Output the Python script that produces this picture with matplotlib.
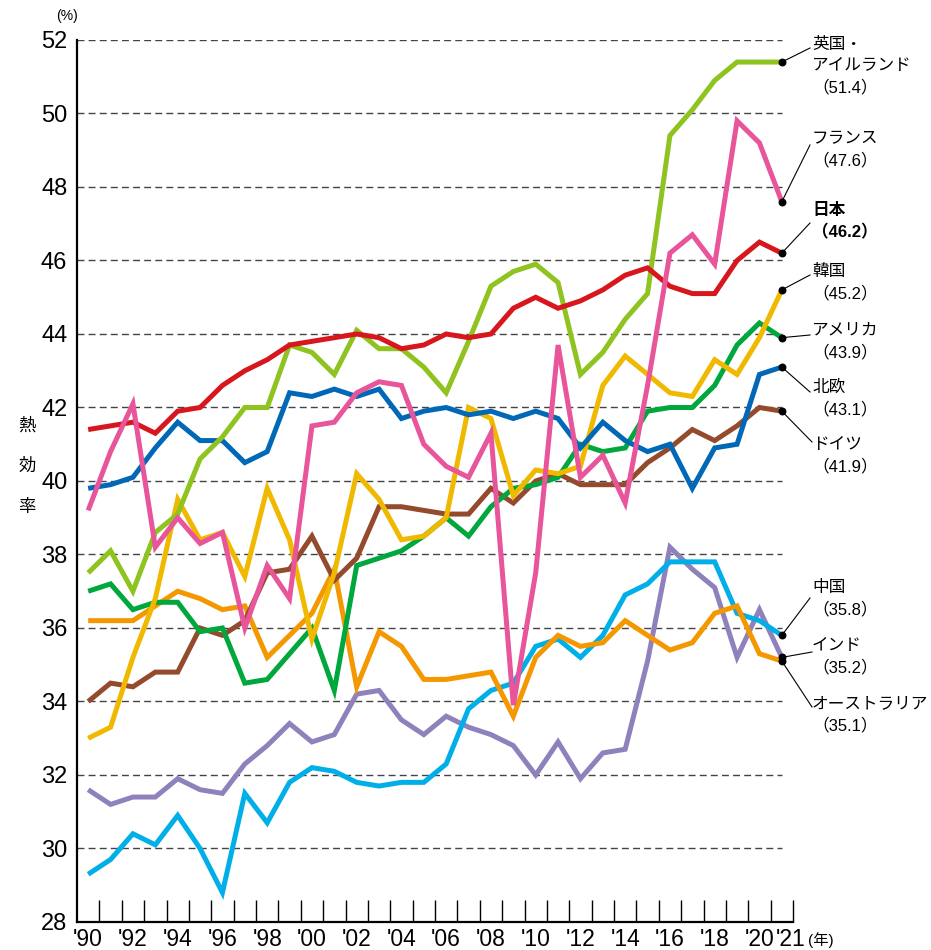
import numpy as np
import matplotlib
matplotlib.use('Agg')
from matplotlib import pyplot as plt
from matplotlib.transforms import ScaledTranslation

plt.rcParams['font.family'] = ['Liberation Sans', 'Noto Sans CJK JP']

# --- data ---
years = np.arange(1990, 2022)

uk_ireland = [37.5, 38.1, 37.0, 38.6, 39.1, 40.6, 41.2, 42.0, 42.0, 43.7,
              43.5, 42.9, 44.1, 43.6, 43.6, 43.1, 42.4, 43.8, 45.3, 45.7,
              45.9, 45.4, 42.9, 43.5, 44.4, 45.1, 49.4, 50.1, 50.9, 51.4,
              51.4, 51.4]
france = [39.2, 40.8, 42.1, 38.2, 39.0, 38.3, 38.6, 36.0, 37.7, 36.8,
          41.5, 41.6, 42.4, 42.7, 42.6, 41.0, 40.4, 40.1, 41.3, 33.9,
          37.5, 43.7, 40.1, 40.7, 39.4, 42.6, 46.2, 46.7, 45.9, 49.8,
          49.2, 47.6]
japan = [41.4, 41.5, 41.6, 41.3, 41.9, 42.0, 42.6, 43.0, 43.3, 43.7,
         43.8, 43.9, 44.0, 43.9, 43.6, 43.7, 44.0, 43.9, 44.0, 44.7,
         45.0, 44.7, 44.9, 45.2, 45.6, 45.8, 45.3, 45.1, 45.1, 46.0,
         46.5, 46.2]
korea = [33.0, 33.3, 35.2, 36.8, 39.5, 38.4, 38.6, 37.4, 39.8, 38.4,
         35.7, 37.5, 40.2, 39.5, 38.4, 38.5, 39.0, 42.0, 41.7, 39.6,
         40.3, 40.2, 40.4, 42.6, 43.4, 42.9, 42.4, 42.3, 43.3, 42.9,
         43.9, 45.2]
usa = [37.0, 37.2, 36.5, 36.7, 36.7, 35.9, 36.0, 34.5, 34.6, 35.3,
       36.0, 34.3, 37.7, 37.9, 38.1, 38.5, 39.0, 38.5, 39.3, 39.8,
       39.9, 40.1, 41.0, 40.8, 40.9, 41.9, 42.0, 42.0, 42.6, 43.7,
       44.3, 43.9]
nordic = [39.8, 39.9, 40.1, 40.9, 41.6, 41.1, 41.1, 40.5, 40.8, 42.4,
          42.3, 42.5, 42.3, 42.5, 41.7, 41.9, 42.0, 41.8, 41.9, 41.7,
          41.9, 41.7, 40.9, 41.6, 41.1, 40.8, 41.0, 39.8, 40.9, 41.0,
          42.9, 43.1]
germany = [34.0, 34.5, 34.4, 34.8, 34.8, 36.0, 35.8, 36.2, 37.5, 37.6,
           38.5, 37.3, 37.9, 39.3, 39.3, 39.2, 39.1, 39.1, 39.8, 39.4,
           40.0, 40.2, 39.9, 39.9, 39.9, 40.5, 40.9, 41.4, 41.1, 41.5,
           42.0, 41.9]
china = [29.3, 29.7, 30.4, 30.1, 30.9, 30.0, 28.8, 31.5, 30.7, 31.8,
         32.2, 32.1, 31.8, 31.7, 31.8, 31.8, 32.3, 33.8, 34.3, 34.5,
         35.5, 35.7, 35.2, 35.8, 36.9, 37.2, 37.8, 37.8, 37.8, 36.4,
         36.2, 35.8]
india = [31.6, 31.2, 31.4, 31.4, 31.9, 31.6, 31.5, 32.3, 32.8, 33.4,
         32.9, 33.1, 34.2, 34.3, 33.5, 33.1, 33.6, 33.3, 33.1, 32.8,
         32.0, 32.9, 31.9, 32.6, 32.7, 35.1, 38.2, 37.6, 37.1, 35.2,
         36.5, 35.2]
australia = [36.2, 36.2, 36.2, 36.6, 37.0, 36.8, 36.5, 36.6, 35.2, 35.8,
             36.4, 37.6, 34.4, 35.9, 35.5, 34.6, 34.6, 34.7, 34.8, 33.6,
             35.2, 35.8, 35.5, 35.6, 36.2, 35.8, 35.4, 35.6, 36.4, 36.6,
             35.3, 35.1]

x_labels = ["'90", "'92", "'94", "'96", "'98", "'00", "'02", "'04", "'06",
            "'08", "'10", "'12", "'14", "'16", "'18", "'20", "'21"]
x_label_years = list(range(1990, 2021, 2)) + [2021]

# drawing order (bottom first): name, values, colour
series = [
    ('インド', india, '#8f82bc'),
    ('中国', china, '#00afe8'),
    ('オーストラリア', australia, '#f39800'),
    ('ドイツ', germany, '#934a2d'),
    ('アメリカ', usa, '#00a73c'),
    ('韓国', korea, '#f0b900'),
    ('北欧', nordic, '#0068b7'),
    ('英国・\nアイルランド', uk_ireland, '#8fc31f'),
    ('日本', japan, '#d7161e'),
    ('フランス', france, '#e8559a'),
]

# --- layout helpers: reference pixel -> data coords ---
W, H = 931, 950
AX_L, AX_R, AX_T, AX_B = 77, 793, 40, 922
X0, X1, Y0, Y1 = 1989.5, 2021.5, 28, 52


def px_x(px):
    return X0 + (px - AX_L) * (X1 - X0) / (AX_R - AX_L)


def px_y(py):
    return Y1 - (py - AX_T) * (Y1 - Y0) / (AX_B - AX_T)


fig = plt.figure(figsize=(W / 100, H / 100), dpi=100)
ax = fig.add_axes([AX_L / W, 1 - AX_B / H, (AX_R - AX_L) / W, (AX_B - AX_T) / H])
ax.set_xlim(X0, X1)
ax.set_ylim(Y0, Y1)

# dashed grid lines stopping at the last year
ax.hlines(np.arange(30, 53, 2), X0, years[-1], colors='#444444', lw=1.0,
          linestyles=(0, (5, 3)), zorder=1)

for name, vals, col in series:
    ax.plot(years, vals, color=col, lw=3.6, solid_joinstyle='miter',
            solid_capstyle='butt', zorder=3)

# end dots
ends = [vals[-1] for _, vals, _ in series]
ax.scatter([years[-1]] * len(ends), ends, s=22, color='black', zorder=5, clip_on=False)

for s in ['top', 'right']:
    ax.spines[s].set_visible(False)
for s in ['left', 'bottom']:
    ax.spines[s].set_linewidth(1.6)
    ax.spines[s].set_color('black')

ax.set_yticks(np.arange(28, 53, 2))
ax.tick_params(axis='y', length=0, pad=7, labelsize=17)
ax.set_xticks(x_label_years)
ax.set_xticklabels(x_labels)
ax.set_xticks(np.arange(1990.5, 2022, 1), minor=True)
ax.tick_params(axis='x', which='major', length=0, pad=4, labelsize=16.5)
ax.tick_params(axis='x', which='minor', direction='in', length=16, width=1.0)
# '21 sits a bit right of its year, snug against '20
lab21 = ax.get_xticklabels()[-1]
lab21.set_transform(lab21.get_transform() + ScaledTranslation(6 / 72, 0, fig.dpi_scale_trans))

# units
fig.text(67 / W, 1 - 16 / H, '(%)', fontsize=10, ha='center', va='center')
fig.text(821 / W, 1 - 940 / H, '(年)', fontsize=11, ha='center', va='center')
for i, ch in enumerate('熱効率'):
    fig.text(27 / W, 1 - (425 + 41 * i) / H, ch, fontsize=12.5, ha='center', va='center')

# right side labels: text, last value, text top (px), leader end (px), bold
labels = [
    ('英国・\nアイルランド\n（51.4）', 51.4, 37, (810, 48), False),
    ('フランス\n（47.6）', 47.6, 131, (810, 145), False),
    ('日本\n（46.2）', 46.2, 203, (810, 223), True),
    ('韓国\n（45.2）', 45.2, 264, (810, 275), False),
    ('アメリカ\n（43.9）', 43.9, 323, (810, 335), False),
    ('北欧\n（43.1）', 43.1, 380, (810, 392), False),
    ('ドイツ\n（41.9）', 41.9, 437, (812, 442), False),
    ('中国\n（35.8）', 35.8, 580, (810, 598), False),
    ('インド\n（35.2）', 35.2, 638, (812, 652), False),
    ('オーストラリア\n（35.1）', 35.1, 696, (812, 707), False),
]
for txt, v, top, (lx, ly), bold in labels:
    ax.plot([years[-1], px_x(lx)], [v, px_y(ly)], color='black', lw=0.8,
            clip_on=False, zorder=4)
    ax.text(px_x(812), px_y(top), txt, fontsize=12, ha='left', va='top',
            linespacing=1.5, fontweight='bold' if bold else 'normal',
            clip_on=False)

fig.savefig('out.png', dpi=100)
